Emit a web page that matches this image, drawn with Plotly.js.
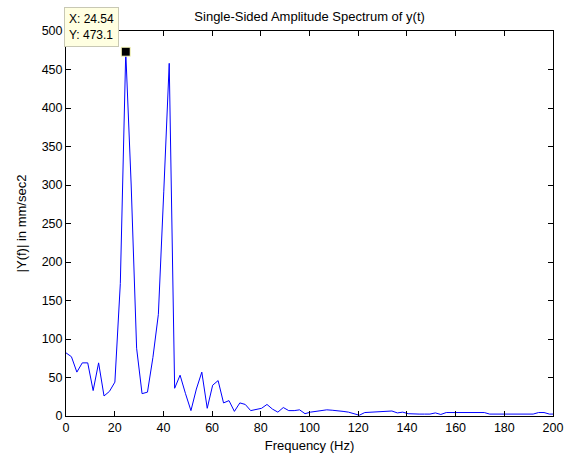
<!DOCTYPE html>
<html>
<head>
<meta charset="utf-8">
<script src="https://cdn.plot.ly/plotly-3.0.1.min.js"></script>
<style>html,body{margin:0;padding:0;background:#fff;}#chart{width:566px;height:461px;}</style>
</head>
<body>
<div id="chart"></div>
<script>
// Frequency (Hz)
var freq = [0, 2.23, 4.46, 6.69, 8.92, 11.15, 13.39, 15.62, 17.85, 20.08,
  22.31, 24.54, 26.77, 29.00, 31.23, 33.46, 35.69, 37.93, 40.16, 42.39,
  44.62, 46.85, 49.08, 51.31, 53.54, 55.77, 58.00, 60.23, 62.47, 64.70,
  66.93, 69.16, 71.39, 73.62, 75.85, 78.08, 80.31, 82.54, 84.77, 87.00,
  89.24, 91.47, 93.70, 95.93, 98.16, 100.39, 102.62, 104.85, 107.08, 109.31,
  111.55, 113.78, 116.01, 118.24, 120.47, 122.70, 124.93, 127.16, 129.39, 131.62,
  133.85, 136.08, 138.31, 140.54, 142.78, 145.01, 147.24, 149.47, 151.70, 153.93,
  156.16, 158.39, 160.62, 162.85, 165.08, 167.31, 169.54, 171.77, 174.00, 176.24,
  178.47, 180.70, 182.93, 185.16, 187.39, 189.62, 191.85, 194.08, 196.31, 198.54, 200.77];
// |Y(f)| in mm/sec2
var amp = [82, 77, 57, 69, 69, 33, 69, 26, 32, 44,
  172, 473.1, 300, 88, 29, 31, 76, 132, 292, 458,
  36, 53, 29, 7, 35, 57, 10, 40, 46, 17,
  20, 6, 17, 15, 7, 9, 10, 15, 9, 5,
  11, 7, 7, 8, 3, 5, 6, 7, 8, 7.5,
  7, 6, 5, 3.5, 1, 4.5, 5, 5, 5.5, 6,
  6.5, 4, 5, 3, 2.5, 2.5, 2.5, 2.5, 4, 2,
  4.5, 4.5, 4.5, 4.5, 4.5, 4.5, 4.5, 4.5, 2.5, 2.5,
  2.5, 2.5, 2.5, 2.5, 2.5, 2.5, 2.5, 4.5, 4.5, 2.5, 2.5];
// Data tip
var tipX = [24.54];
var tipY = [473.1];
var xTicks = [0, 20, 40, 60, 80, 100, 120, 140, 160, 180, 200];
var yTicks = [0, 50, 100, 150, 200, 250, 300, 350, 400, 450, 500];

var font = 'Liberation Sans, Arial, sans-serif';
var traces = [
  {x: freq, y: amp, type: 'scatter', mode: 'lines',
   line: {color: '#0000ff', width: 1}, hoverinfo: 'none'},
  {x: tipX, y: tipY, type: 'scatter', mode: 'markers', cliponaxis: false,
   marker: {symbol: 'square', size: 9, color: '#000000', line: {color: '#ffffc0', width: 1}},
   hoverinfo: 'none'}
];
var layout = {
  width: 566, height: 461,
  paper_bgcolor: '#ffffff', plot_bgcolor: '#ffffff',
  showlegend: false,
  margin: {l: 66, r: 13, t: 31, b: 45},
  font: {family: font, size: 12, color: '#000000'},
  title: {text: 'Single-Sided Amplitude Spectrum of y(t)', font: {family: font, size: 13, color: '#000'},
          x: 0.547, xref: 'container', xanchor: 'center', y: 0.965, yref: 'container', yanchor: 'middle'},
  xaxis: {range: [0, 200], tickvals: xTicks, ticktext: xTicks.map(String),
          showline: true, linecolor: '#000', linewidth: 1, mirror: 'ticks',
          ticks: 'inside', ticklen: 5, tickcolor: '#000', showgrid: false, zeroline: false,
          tickfont: {family: font, size: 12.5, color: '#000'},
          title: {text: 'Frequency (Hz)', font: {family: font, size: 13, color: '#000'}, standoff: 6}},
  yaxis: {range: [0, 500], tickvals: yTicks, ticktext: yTicks.map(String),
          showline: true, linecolor: '#000', linewidth: 1, mirror: 'ticks',
          ticks: 'inside', ticklen: 5, tickcolor: '#000', showgrid: false, zeroline: false,
          tickfont: {family: font, size: 12.5, color: '#000'},
          title: {text: '|Y(f)| in mm/sec2', font: {family: font, size: 13, color: '#000'}, standoff: 12}},
  annotations: [{
    x: tipX[0], y: tipY[0], xref: 'x', yref: 'y',
    text: 'X: ' + tipX[0].toFixed(2) + '<br>Y: ' + tipY[0].toFixed(1),
    showarrow: false, xanchor: 'right', yanchor: 'bottom', xshift: -7, yshift: 5,
    align: 'left', bgcolor: '#ffffe1', bordercolor: '#c8c8b4', borderwidth: 1, borderpad: 4,
    font: {family: font, size: 12, color: '#000'}
  }]
};
Plotly.newPlot('chart', traces, layout, {displayModeBar: false, staticPlot: true});
</script>
</body>
</html>
